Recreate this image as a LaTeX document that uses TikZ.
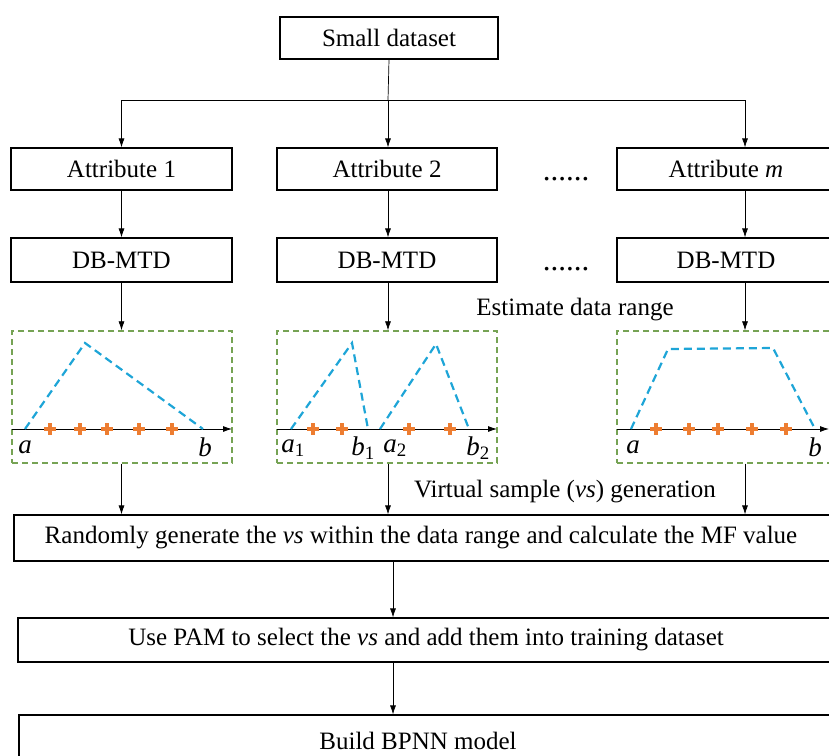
\documentclass[tikz,border=0pt]{standalone}
\usepackage{fontspec}
\setmainfont{Liberation Serif}
\usetikzlibrary{arrows.meta}
\definecolor{rnggreen}{RGB}{118,163,84}
\definecolor{mfblue}{RGB}{30,165,215}
\definecolor{ptorange}{RGB}{237,125,49}
\begin{document}
\begin{tikzpicture}[x=1pt,y=-1pt,
  box/.style={draw=black,line width=1.2pt,inner sep=0pt,rectangle,font=\fontsize{25}{29}\selectfont},
  lbl/.style={inner sep=0pt,font=\fontsize{25}{29}\selectfont},
  dotlbl/.style={inner sep=0pt,font=\fontsize{31}{34}\selectfont},
  ptlbl/.style={inner sep=0pt,font=\fontsize{27}{30}\selectfont\itshape},
  arr/.style={-{Latex[length=9pt,width=6pt]},line width=0.7pt},
  axis/.style={-{Latex[length=9pt,width=6pt]},line width=0.8pt},
  rng/.style={draw=rnggreen,line width=1.3pt,dash pattern=on 6pt off 4pt},
  mfline/.style={draw=mfblue,line width=2.2pt,dash pattern=on 8pt off 5pt},
  ptc/.style={draw=ptorange,line width=4.5pt}
]
\useasboundingbox (0,0) rectangle (829,755);
\clip (0,0) rectangle (829,755);
% columns
\coordinate (c1) at (121.5,0);
\coordinate (c2) at (388,0);
\coordinate (cm) at (745,0);
\coordinate (cc) at (393,0);
\coordinate (j) at (388,100);
% top
\node[box,minimum width=218,minimum height=42] (sd) at (389,38) {Small dataset};
\node[box,minimum width=221,minimum height=42] (a1) at (121.5,169) {Attribute 1};
\node[box,minimum width=220,minimum height=42] (a2) at (387,169) {Attribute 2};
\node[box,minimum width=218,minimum height=42] (am) at (726,169) {Attribute \textit{m}};
\node[dotlbl,anchor=base] (dots1) at (566,180) {......};
\node[box,minimum width=221,minimum height=44] (d1) at (121.5,260) {DB-MTD};
\node[box,minimum width=220,minimum height=44] (d2) at (387,260) {DB-MTD};
\node[box,minimum width=218,minimum height=44] (dm) at (726,260) {DB-MTD};
\node[dotlbl,anchor=base] (dots2) at (566,270) {......};
\node[lbl] (est) at (575,310) {Estimate data range};
% range boxes
\node[rng,minimum width=220,minimum height=132,inner sep=0pt] (r1) at (122,397) {};
\node[rng,minimum width=220,minimum height=132,inner sep=0pt] (r2) at (387,397) {};
\node[rng,minimum width=220,minimum height=132,inner sep=0pt] (r3) at (727,397) {};
% connectors top
\draw[line width=0.7pt] (sd.south) -- (j);
\draw[arr] (j) -| (a1.north);
\draw[arr] (j) -- (a2.north -| j);
\draw[arr] (j) -| (am.north -| cm);
\draw[arr] (a1.south -| c1) -- (d1.north -| c1);
\draw[arr] (a2.south -| c2) -- (d2.north -| c2);
\draw[arr] (am.south -| cm) -- (dm.north -| cm);
\draw[arr] (d1.south -| c1) -- (r1.north -| c1);
\draw[arr] (d2.south -| c2) -- (r2.north -| c2);
\draw[arr] (dm.south -| cm) -- (r3.north -| cm);
% panel 1
\draw[axis] (12,429) -- (232,429);
\draw[mfline] (25,429) -- (85,343) -- (203,429);
\foreach \x in {50,80,107,139,172} {\draw[ptc] (\x-6,429) -- (\x+6,429) (\x,423) -- (\x,435);}
\node[ptlbl] at (25,447) {a};
\node[ptlbl] at (205,447) {b};
% panel 2
\draw[axis] (277,429) -- (497,429);
\draw[mfline] (291,429) -- (352,343) -- (368,429);
\draw[mfline] (380,429) -- (436,344) -- (469,429);
\foreach \x in {313,342,409,450} {\draw[ptc] (\x-6,429) -- (\x+6,429) (\x,423) -- (\x,435);}
\node[ptlbl] at (293,448) {a\textsubscript{\upshape 1}};
\node[ptlbl] at (363,448) {b\textsubscript{\upshape 1}};
\node[ptlbl] at (395,448) {a\textsubscript{\upshape 2}};
\node[ptlbl] at (478,448) {b\textsubscript{\upshape 2}};
% panel 3
\draw[axis] (617,429) -- (829,429);
\draw[mfline] (631,429) -- (668,349) -- (773,348) -- (815,429);
\foreach \x in {656,689,718,752,786} {\draw[ptc] (\x-6,429) -- (\x+6,429) (\x,423) -- (\x,435);}
\node[ptlbl] at (633,447) {a};
\node[ptlbl] at (815,447) {b};
% lower boxes
\node[lbl] (vs) at (565,492) {Virtual sample (\textit{vs}) generation};
\node[box,minimum width=820,minimum height=46] (rand) at (424,538) {\hspace*{-6pt}Randomly generate the \textit{vs} within the data range and calculate the MF value};
\node[box,minimum width=816,minimum height=44] (pam) at (426,640) {Use PAM to select the \textit{vs} and add them into training dataset};
\node[box,minimum width=816,minimum height=60] (bp) at (427,745) {};
\node[lbl] (bpt) at (418,741) {Build BPNN model};
\draw[arr] (r1.south -| c1) -- (rand.north -| c1);
\draw[arr] (r2.south -| c2) -- (rand.north -| c2);
\draw[arr] (r3.south -| cm) -- (rand.north -| cm);
\draw[arr] (rand.south -| cc) -- (pam.north -| cc);
\draw[arr] (pam.south -| cc) -- (bp.north -| cc);
\end{tikzpicture}
\end{document}
